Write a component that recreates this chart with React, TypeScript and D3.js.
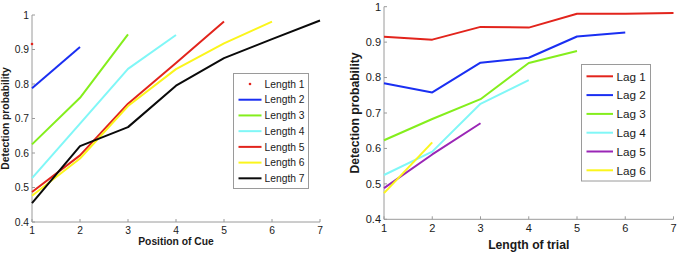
import React from "react";
import * as d3 from "d3";

// ---- Data (left panel: detection probability by position of cue, per trial length)
const positions = [1, 2, 3, 4, 5, 6, 7];
const length1 = [0.916];
const length2 = [0.788, 0.907];
const length3 = [0.625, 0.76, 0.944];
const length4 = [0.527, 0.685, 0.844, 0.942];
const length5 = [0.487, 0.593, 0.743, 0.861, 0.981];
const length6 = [0.476, 0.584, 0.736, 0.843, 0.918, 0.981];
const length7 = [0.455, 0.62, 0.675, 0.795, 0.875, 0.93, 0.984];

// ---- Data (right panel: detection probability by length of trial, per lag)
const trialLengths = [1, 2, 3, 4, 5, 6, 7];
const lag1 = [0.915, 0.907, 0.943, 0.941, 0.98, 0.98, 0.982];
const lag2 = [0.784, 0.758, 0.842, 0.856, 0.916, 0.927];
const lag3 = [0.623, 0.683, 0.739, 0.841, 0.875];
const lag4 = [0.525, 0.591, 0.726, 0.793];
const lag5 = [0.488, 0.583, 0.671];
const lag6 = [0.474, 0.617];

const yTicks = [0.4, 0.5, 0.6, 0.7, 0.8, 0.9, 1];
const xTicks = [1, 2, 3, 4, 5, 6, 7];

const leftNames = ["Length 1", "Length 2", "Length 3", "Length 4", "Length 5", "Length 6", "Length 7"];
const rightNames = ["Lag 1", "Lag 2", "Lag 3", "Lag 4", "Lag 5", "Lag 6"];

const RED = "#e2241c";
const BLUE = "#1a2ff2";
const GREEN = "#84ee1c";
const CYAN = "#80f7f7";
const YELLOW = "#fbf51c";
const BLACK = "#0a0a0a";
const PURPLE = "#9a26b6";

const leftSeries = [
  { name: leftNames[0], values: length1, color: RED, dot: true },
  { name: leftNames[1], values: length2, color: BLUE },
  { name: leftNames[2], values: length3, color: GREEN },
  { name: leftNames[3], values: length4, color: CYAN },
  { name: leftNames[4], values: length5, color: RED },
  { name: leftNames[5], values: length6, color: YELLOW },
  { name: leftNames[6], values: length7, color: BLACK },
];
const rightSeries = [
  { name: rightNames[0], values: lag1, color: RED },
  { name: rightNames[1], values: lag2, color: BLUE },
  { name: rightNames[2], values: lag3, color: GREEN },
  { name: rightNames[3], values: lag4, color: CYAN },
  { name: rightNames[4], values: lag5, color: PURPLE },
  { name: rightNames[5], values: lag6, color: YELLOW },
];

const FONT = "'Liberation Sans', Arial, Helvetica, sans-serif";
const AXIS = "#9a9a9a";
const TEXT = "#1a1a1a";

type Series = { name: string; values: number[]; color: string; dot?: boolean };

function Panel(props: {
  series: Series[];
  xs: number[];
  x0: number; x1: number; yTop: number; yBot: number;
  tickFont: number; labelFont: number; legendFont: number;
  xLabel: string; xLabelY: number; yLabelX: number;
  legend: { x: number; y: number; w: number; h: number; rowY: number; step: number; lx0: number; lx1: number; tx: number };
}) {
  const { series, xs, x0, x1, yTop, yBot, tickFont, labelFont, legendFont, xLabel, xLabelY, yLabelX, legend } = props;
  const x = d3.scaleLinear().domain([1, 7]).range([x0, x1]);
  const y = d3.scaleLinear().domain([0.4, 1]).range([yBot, yTop]);
  const line = d3
    .line<number>()
    .x((_, i) => x(xs[i]))
    .y((d) => y(d));
  return (
    <g>
      {/* axes */}
      <line x1={x0} x2={x0} y1={yTop} y2={yBot} stroke={AXIS} strokeWidth={1} />
      <line x1={x0} x2={x1} y1={yBot} y2={yBot} stroke={AXIS} strokeWidth={1} />
      {yTicks.map((t) => (
        <g key={"y" + t}>
          <line x1={x0} x2={x0 + 3} y1={y(t)} y2={y(t)} stroke={AXIS} />
          <text x={x0 - 3} y={y(t)} dy="0.35em" textAnchor="end" fontSize={tickFont} fill={TEXT} fontFamily={FONT}>
            {d3.format("")(t)}
          </text>
        </g>
      ))}
      {xTicks.map((t) => (
        <g key={"x" + t}>
          <line x1={x(t)} x2={x(t)} y1={yBot} y2={yBot - 3} stroke={AXIS} />
          <text x={x(t)} y={yBot + 4} dy="0.8em" textAnchor="middle" fontSize={tickFont} fill={TEXT} fontFamily={FONT}>
            {t}
          </text>
        </g>
      ))}
      <text x={(x0 + x1) / 2} y={xLabelY} textAnchor="middle" fontSize={labelFont} fontWeight="bold" fill={TEXT} fontFamily={FONT}>
        {xLabel}
      </text>
      <text
        transform={`translate(${yLabelX},${(yTop + yBot) / 2}) rotate(-90)`}
        textAnchor="middle"
        fontSize={labelFont}
        fontWeight="bold"
        fill={TEXT}
        fontFamily={FONT}
      >
        Detection probability
      </text>
      {/* series */}
      {series.map((s) =>
        s.dot ? (
          s.values.map((v, i) => <circle key={s.name + i} cx={x(xs[i])} cy={y(v)} r={1.3} fill={s.color} />)
        ) : (
          <path key={s.name} d={line(s.values) || ""} fill="none" stroke={s.color} strokeWidth={2} strokeLinejoin="round" />
        )
      )}
      {/* legend */}
      <rect x={legend.x} y={legend.y} width={legend.w} height={legend.h} fill="#fff" stroke={AXIS} strokeWidth={1} />
      {series.map((s, i) => {
        const ry = legend.rowY + i * legend.step;
        return (
          <g key={"lg" + s.name}>
            {s.dot ? (
              <circle cx={(legend.lx0 + legend.lx1) / 2} cy={ry} r={1.3} fill={s.color} />
            ) : (
              <line x1={legend.lx0} x2={legend.lx1} y1={ry} y2={ry} stroke={s.color} strokeWidth={2} />
            )}
            <text x={legend.tx} y={ry} dy="0.36em" fontSize={legendFont} fill={TEXT} fontFamily={FONT}>
              {s.name}
            </text>
          </g>
        );
      })}
    </g>
  );
}

export default function App() {
  return (
    <svg width={680} height={254} style={{ position: "absolute", left: 0, top: 0, background: "#fff" }}>
      <rect width={680} height={254} fill="#fff" />
      <Panel
        series={leftSeries}
        xs={positions}
        x0={32}
        x1={320}
        yTop={15}
        yBot={222}
        tickFont={10.3}
        labelFont={10.3}
        legendFont={10.3}
        xLabel="Position of Cue"
        xLabelY={245}
        yLabelX={9.2}
        legend={{ x: 233.5, y: 73.5, w: 75, h: 115, rowY: 84, step: 15.72, lx0: 238.5, lx1: 261.5, tx: 264.5 }}
      />
      <Panel
        series={rightSeries}
        xs={trialLengths}
        x0={384}
        x1={673.5}
        yTop={6.7}
        yBot={219.3}
        tickFont={11}
        labelFont={12.2}
        legendFont={11.7}
        xLabel="Length of trial"
        xLabelY={248.5}
        yLabelX={359}
        legend={{ x: 581.5, y: 64.5, w: 69, h: 116.5, rowY: 76.3, step: 18.8, lx0: 586.5, lx1: 613, tx: 616.5 }}
      />
    </svg>
  );
}
